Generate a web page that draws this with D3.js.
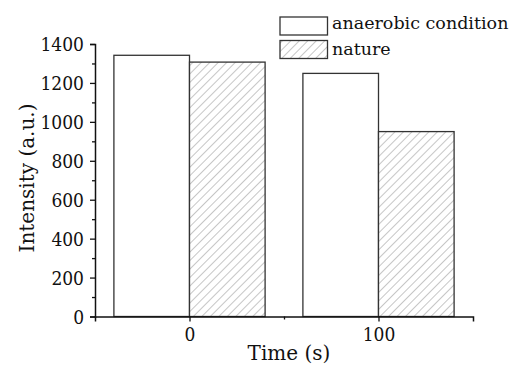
<!DOCTYPE html>
<html><head><meta charset="utf-8">
<script src="https://cdn.jsdelivr.net/npm/d3@7"></script>
<style>body{margin:0;background:#fff}svg{display:block}text{font-family:"DejaVu Serif",serif;fill:#111}</style>
</head><body><svg id="c" width="510" height="365"></svg>
<script>
const times = [0, 100];
const seriesNames = ["anaerobic condition", "nature"];
const anaerobic = [1342, 1249];
const nature = [1307, 950];
const yTicks = [0, 200, 400, 600, 800, 1000, 1200, 1400];
const xTicks = [0, 100];

const svg = d3.select("#c");
const x = d3.scaleLinear().domain([-50, 150]).range([95, 473]);
const y = d3.scaleLinear().domain([0, 1400]).range([316.5, 44]);
const barW = 40;

const defs = svg.append("defs");
const pat = defs.append("pattern").attr("id","hatch").attr("patternUnits","userSpaceOnUse")
  .attr("width",6).attr("height",6).attr("patternTransform","rotate(45)");
pat.append("rect").attr("width",6).attr("height",6).attr("fill","#fff");
pat.append("line").attr("x1",0).attr("y1",0).attr("x2",0).attr("y2",6)
  .attr("stroke","#a8a8a8").attr("stroke-width",1.3);

const stroke = "#333";
svg.append("g").selectAll("rect").data(times).join("rect")
  .attr("x", d => x(d - barW)).attr("width", d => x(d) - x(d - barW))
  .attr("y", (d,i) => y(anaerobic[i])).attr("height", (d,i) => y(0) - y(anaerobic[i]))
  .attr("fill","#fff").attr("stroke",stroke).attr("stroke-width",1.3);
svg.append("g").selectAll("rect").data(times).join("rect")
  .attr("x", d => x(d)).attr("width", d => x(d + barW) - x(d))
  .attr("y", (d,i) => y(nature[i])).attr("height", (d,i) => y(0) - y(nature[i]))
  .attr("fill","url(#hatch)").attr("stroke",stroke).attr("stroke-width",1.3);

const tickFont = '"DejaVu Serif Condensed","DejaVu Serif",serif';
const yAxis = svg.append("g").attr("transform",`translate(${x(-50)},0)`)
  .call(d3.axisLeft(y).tickValues(yTicks).tickSize(5).tickPadding(6).tickFormat(d3.format("d")));
svg.append("g").attr("transform",`translate(${x(-50)},0)`)
  .call(d3.axisLeft(y).tickValues(d3.range(100,1400,200)).tickSize(3).tickFormat(""))
  .select(".domain").remove();
const xAxis = svg.append("g").attr("transform",`translate(0,${y(0)})`)
  .call(d3.axisBottom(x).tickValues(xTicks).tickSize(5).tickPadding(6).tickFormat(d3.format("d")));
svg.append("g").attr("transform",`translate(0,${y(0)})`)
  .call(d3.axisBottom(x).tickValues([50]).tickSize(3).tickFormat(""))
  .select(".domain").remove();
svg.selectAll(".domain").attr("stroke","#111").attr("stroke-width",1.5);
svg.selectAll(".tick line").attr("stroke","#111").attr("stroke-width",1.3);
svg.selectAll(".tick text").style("font-family",tickFont).attr("font-size",19).attr("fill","#111");
yAxis.selectAll(".tick text").attr("dy","0.36em");
xAxis.selectAll(".tick text").attr("dy","0.72em");

svg.append("text").attr("x", 289).attr("y", 359.5).attr("text-anchor","middle")
  .attr("font-size",20).text("Time (s)");
svg.append("text").attr("transform","translate(34,178) rotate(-90)").attr("text-anchor","middle")
  .attr("font-size",20).text("Intensity (a.u.)");

const lg = svg.append("g");
seriesNames.forEach((n,i) => {
  lg.append("rect").attr("x",280).attr("y",17 + i*23.5).attr("width",47.5).attr("height",18)
    .attr("fill", i === 0 ? "#fff" : "url(#hatch)").attr("stroke",stroke).attr("stroke-width",1.3);
  lg.append("text").attr("x",332).attr("y",29 + i*25.5).attr("font-size",17.5).text(n);
});
</script></body></html>
